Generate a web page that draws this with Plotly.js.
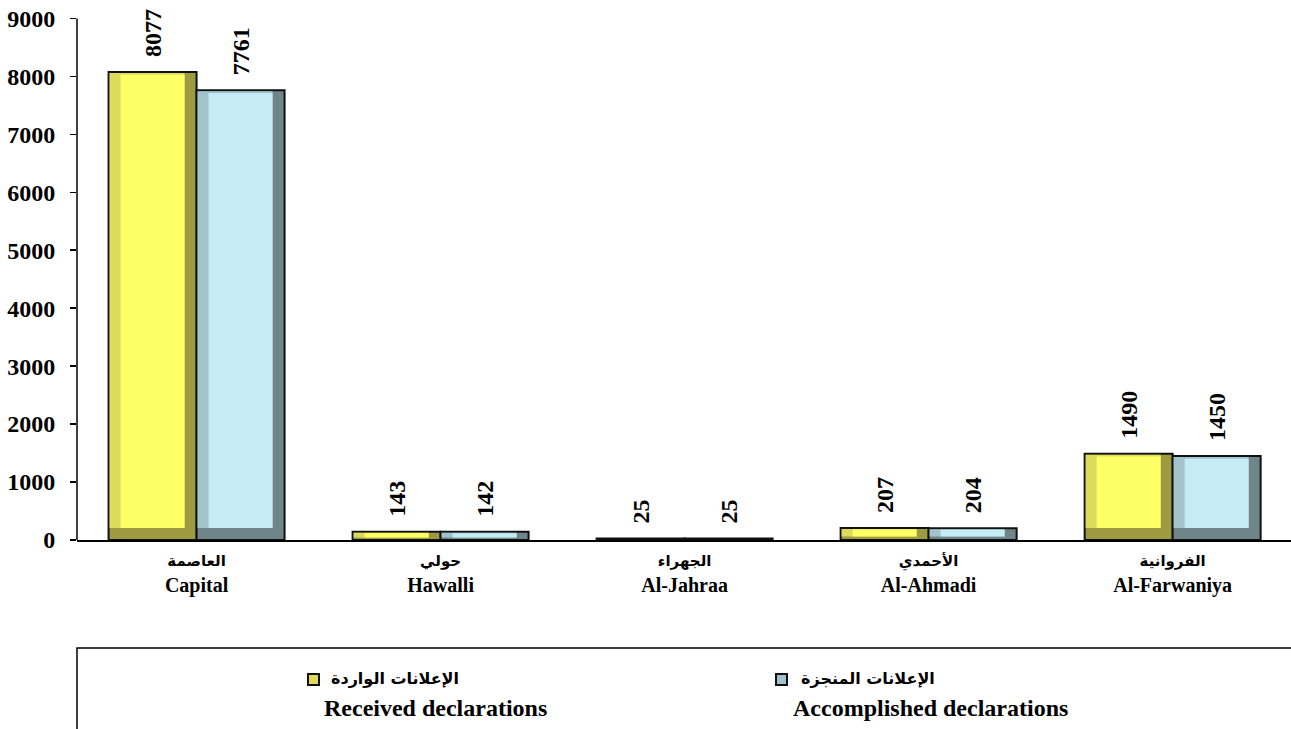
<!DOCTYPE html>
<html>
<head>
<meta charset="utf-8">
<script src="https://cdn.plot.ly/plotly-3.0.1.min.js"></script>
<style>html,body{margin:0;padding:0;background:#fff;}#chart{width:1291px;height:729px;}</style>
</head>
<body>
<div id="chart"></div>
<script>
const categoriesAr = ['العاصمة', 'حولي', 'الجهراء', 'الأحمدي', 'الفروانية'];
const categoriesEn = ['Capital', 'Hawalli', 'Al-Jahraa', 'Al-Ahmadi', 'Al-Farwaniya'];
const received = [8077, 143, 25, 207, 1490];
const accomplished = [7761, 142, 25, 204, 1450];
const seriesAr = ['الإعلانات الواردة', 'الإعلانات المنجزة'];
const seriesEn = ['Received declarations', 'Accomplished declarations'];
const yTicks = [0, 1000, 2000, 3000, 4000, 5000, 6000, 7000, 8000, 9000];

// style
const faceColors = ['#FFFF66', '#C5EBF5'];
const lightColors = ['#DEDA5A', '#A2C3CC'];
const darkColors = ['#9E9A42', '#6F8589'];
const serif = 'Liberation Serif';
const arFont = 'DejaVu Sans';
const yMax = 9000, yTop = 9300;
const W = 1291, H = 729, mL = 77, mR = 0, mT = 1, mB = 189;
const plotW = W - mL - mR, plotH = H - mT - mB;
const xRange = [-0.49, 4.485];
const unitX = (xRange[1] - xRange[0]) / plotW;   // data units per px
const unitY = yTop / plotH;
const barW = 88 * unitX;
const bevX = 12 * unitX, bevY = 12 * unitY;

const idx = categoriesEn.map((_, i) => i);
const tickText = categoriesEn.map((en, i) =>
  '<b><span style="font-size:15px;font-family:DejaVu Sans">' + categoriesAr[i] + '</span><br>' + en + '</b>');

const data = [];
[received, accomplished].forEach((vals, k) => {
  const off = k === 0 ? -barW : 0;
  const bb = vals.map(v => Math.min(bevY, v * 0.3));
  // outer bar (dark bevel), with outline and value labels
  data.push({
    type: 'bar', x: idx, y: vals, name: seriesEn[k], offset: off, width: barW,
    marker: {color: darkColors[k], line: {color: '#111', width: 2}},
    text: vals.map(v => '\u00a0\u00a0<b>' + v + '</b>'),
    textposition: 'outside', textangle: -90, constraintext: 'none',
    outsidetextfont: {family: serif, size: 24, color: '#000'},
    cliponaxis: false, hoverinfo: 'none'
  });
  // light left bevel
  data.push({
    type: 'bar', x: idx, y: vals.map((v, i) => Math.max(0, v - bb[i] - unitY)), base: bb,
    offset: off + unitX, width: barW - bevX - unitX,
    marker: {color: lightColors[k], line: {width: 0}}, textposition: 'none', hoverinfo: 'none', showlegend: false
  });
  // face
  data.push({
    type: 'bar', x: idx, y: vals.map((v, i) => Math.max(0, v - bb[i] - unitY - bb[i] * 0.15)), base: bb,
    offset: off + bevX, width: barW - 2 * bevX,
    marker: {color: faceColors[k], line: {width: 0}}, textposition: 'none', hoverinfo: 'none', showlegend: false
  });
});

const annotations = [];
const legendPos = [
  {sw: 313, arLeft: 329, enC: 435},
  {sw: 781, arLeft: 799, enC: 930}
];
const px = v => (v - mL) / plotW;
const py = v => (H - mB - v) / plotH;
legendPos.forEach((p, k) => {
  annotations.push({xref: 'paper', yref: 'paper', x: px(p.sw), y: py(679.5), xanchor: 'center', yanchor: 'middle',
    text: ' ', showarrow: false, bgcolor: lightColors[k], bordercolor: '#111', borderwidth: 2, borderpad: 0,
    width: 9, height: 9, font: {size: 6}});
  annotations.push({xref: 'paper', yref: 'paper', x: px(p.arLeft), y: py(678), xanchor: 'left', yanchor: 'middle',
    text: '<b>' + seriesAr[k] + '</b>', showarrow: false,
    font: {family: arFont, size: 16, color: '#000'}});
  annotations.push({xref: 'paper', yref: 'paper', x: px(p.enC), y: py(708), xanchor: 'center', yanchor: 'middle',
    text: '<b>' + seriesEn[k] + '</b>', showarrow: false,
    font: {family: serif, size: 24, color: '#000'}});
});

const layout = {
  width: W, height: H,
  margin: {l: mL, r: mR, t: mT, b: mB},
  paper_bgcolor: '#fff', plot_bgcolor: '#fff',
  showlegend: false,
  font: {family: serif},
  barmode: 'overlay',
  xaxis: {
    range: xRange, tickvals: idx, ticktext: tickText,
    showline: true, linecolor: '#000', linewidth: 1.5, ticks: '', showgrid: false, zeroline: false,
    tickfont: {family: serif, size: 20, color: '#000'}, fixedrange: true
  },
  yaxis: {
    range: [0, yTop], tickvals: yTicks, ticktext: yTicks.map(v => '<b>' + v + '</b>'),
    showline: false, ticks: 'outside', ticklen: 6, tickcolor: '#000', tickwidth: 1.5,
    ticklabelstandoff: 10,
    showgrid: false, zeroline: false,
    tickfont: {family: serif, size: 24, color: '#000'}, fixedrange: true
  },
  shapes: [
    {type: 'line', xref: 'paper', yref: 'y', x0: 0, x1: 0, y0: 0, y1: yMax, line: {color: '#000', width: 1.5}},
    {type: 'rect', xref: 'paper', yref: 'paper', x0: 0, x1: 1.05, y0: py(760), y1: py(648),
      line: {color: '#000', width: 1.5}, fillcolor: 'rgba(0,0,0,0)'}
  ],
  annotations: annotations
};
Plotly.newPlot('chart', data, layout, {displayModeBar: false, staticPlot: true});
</script>
</body>
</html>
